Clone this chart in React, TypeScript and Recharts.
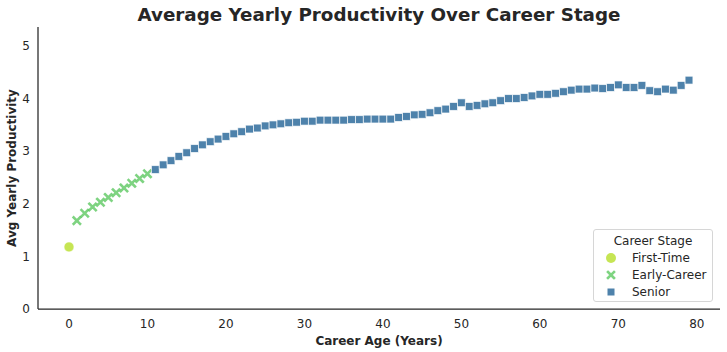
import { ScatterChart, Scatter, XAxis, YAxis } from 'recharts';

const firstTimeAges = [0];
const firstTimeVals = [1.18];

const earlyAges = [1, 2, 3, 4, 5, 6, 7, 8, 9, 10];
const earlyVals = [1.68, 1.82, 1.94, 2.03, 2.12, 2.21, 2.3, 2.39, 2.48, 2.57];

const seniorAges = [
    11, 12, 13, 14, 15, 16, 17, 18, 19, 20, 21, 22, 23, 24, 25, 26, 27, 28, 29, 30,
    31, 32, 33, 34, 35, 36, 37, 38, 39, 40, 41, 42, 43, 44, 45, 46, 47, 48, 49, 50,
    51, 52, 53, 54, 55, 56, 57, 58, 59, 60, 61, 62, 63, 64, 65, 66, 67, 68, 69, 70,
    71, 72, 73, 74, 75, 76, 77, 78, 79,
];
const seniorVals = [
    2.65, 2.74, 2.82, 2.9, 2.97, 3.05, 3.12, 3.18, 3.23, 3.28, 3.33, 3.37, 3.42, 3.44, 3.48, 3.5, 3.52, 3.54, 3.55, 3.57,
    3.57, 3.59, 3.59, 3.59, 3.59, 3.6, 3.6, 3.61, 3.61, 3.61, 3.61, 3.64, 3.66, 3.69, 3.7, 3.73, 3.77, 3.8, 3.85, 3.92,
    3.85, 3.87, 3.9, 3.92, 3.96, 4.0, 4.0, 4.02, 4.05, 4.08, 4.08, 4.1, 4.13, 4.16, 4.18, 4.18, 4.2, 4.19, 4.21, 4.26,
    4.21, 4.21, 4.25, 4.15, 4.13, 4.18, 4.16, 4.25, 4.35,
];

const xTicks = [0, 10, 20, 30, 40, 50, 60, 70, 80];
const yTicks = [0, 1, 2, 3, 4, 5];

const COLORS = {
    first: '#b8de29',
    early: '#5ec962',
    senior: '#2f6c9c',
};

const toPoints = (ages: number[], vals: number[]) => ages.map((a, i) => ({ age: a, value: vals[i] }));

const CircleShape = (props: any) => {
    const { cx, cy } = props;
    return <circle cx={cx} cy={cy} r={5} fill={COLORS.first} fillOpacity={0.8} stroke="#fff" strokeWidth={0.6} />;
};

const CrossShape = (props: any) => {
    const { cx, cy } = props;
    const s = 3.2;
    return (
        <g opacity={0.8}>
            <path
                d={`M${cx - s},${cy - s}L${cx + s},${cy + s}M${cx - s},${cy + s}L${cx + s},${cy - s}`}
                stroke={COLORS.early}
                strokeWidth={2.6}
                strokeLinecap="square"
            />
        </g>
    );
};

const SquareShape = (props: any) => {
    const { cx, cy } = props;
    const s = 7.8;
    return (
        <rect
            x={cx - s / 2}
            y={cy - s / 2}
            width={s}
            height={s}
            fill={COLORS.senior}
            fillOpacity={0.85}
            stroke="#fff"
            strokeOpacity={0.8}
            strokeWidth={0.8}
        />
    );
};

// legend box, matplotlib style
const LegendBox = () => {
    const items = [
        { label: 'First-Time', icon: <circle cx={7} cy={7} r={5} fill={COLORS.first} fillOpacity={0.8} /> },
        {
            label: 'Early-Career',
            icon: (
                <path d="M4,4L10,10M4,10L10,4" stroke={COLORS.early} strokeOpacity={0.8} strokeWidth={2.6} strokeLinecap="square" />
            ),
        },
        { label: 'Senior', icon: <rect x={3.5} y={3.5} width={7} height={7} fill={COLORS.senior} fillOpacity={0.85} /> },
    ];
    return (
        <div
            style={{
                position: 'absolute',
                left: 593,
                top: 229,
                width: 120,
                height: 73,
                border: '1px solid #d6d6d6',
                borderRadius: 3,
                background: 'rgba(255,255,255,0.8)',
                fontFamily: 'DejaVu Sans',
                fontSize: 12,
                color: '#262626',
                boxSizing: 'border-box',
                paddingTop: 3,
                whiteSpace: 'nowrap',
            }}
        >
            <div style={{ textAlign: 'center', lineHeight: '16px' }}>Career Stage</div>
            {items.map((it) => (
                <div key={it.label} style={{ display: 'flex', alignItems: 'center', height: 17, paddingLeft: 10 }}>
                    <svg width={14} height={14} style={{ marginRight: 14 }}>
                        {it.icon}
                    </svg>
                    <span>{it.label}</span>
                </div>
            ))}
        </div>
    );
};

export default function App() {
    const tickStyle = { fill: '#262626', fontSize: 12, fontFamily: 'DejaVu Sans' };
    return (
        <div style={{ position: 'absolute', left: 0, top: 0, width: 727, height: 352, background: '#fff' }}>
            <div
                style={{
                    position: 'absolute',
                    top: 4,
                    left: 38,
                    width: 682,
                    textAlign: 'center',
                    fontFamily: 'DejaVu Sans',
                    fontWeight: 'bold',
                    fontSize: 18.3,
                    color: '#262626',
                }}
            >
                Average Yearly Productivity Over Career Stage
            </div>
            <ScatterChart width={727} height={352} margin={{ top: 27, right: 7, left: 0, bottom: 0 }}>
                <XAxis
                    type="number"
                    dataKey="age"
                    domain={[-3.95, 82.95]}
                    ticks={xTicks}
                    tickLine={false}
                    tickMargin={4}
                    stroke="#262626"
                    strokeWidth={1.25}
                    tick={tickStyle}
                    height={43}
                    allowDataOverflow
                    label={{
                        value: 'Career Age (Years)',
                        position: 'insideBottom',
                        offset: 7,
                        style: { fontFamily: 'DejaVu Sans', fontWeight: 'bold', fontSize: 12, fill: '#262626' },
                    }}
                />
                <YAxis
                    type="number"
                    dataKey="value"
                    domain={[0, 5.36]}
                    ticks={yTicks}
                    tickLine={false}
                    tickMargin={2}
                    stroke="#262626"
                    strokeWidth={1.25}
                    tick={tickStyle}
                    width={38}
                    allowDataOverflow
                    label={{
                        value: 'Avg Yearly Productivity',
                        angle: -90,
                        position: 'insideLeft',
                        offset: 12,
                        style: { fontFamily: 'DejaVu Sans', fontWeight: 'bold', fontSize: 12, fill: '#262626', textAnchor: 'middle' },
                    }}
                />
                <Scatter name="First-Time" data={toPoints(firstTimeAges, firstTimeVals)} shape={<CircleShape />} isAnimationActive={false} />
                <Scatter name="Early-Career" data={toPoints(earlyAges, earlyVals)} shape={<CrossShape />} isAnimationActive={false} />
                <Scatter name="Senior" data={toPoints(seniorAges, seniorVals)} shape={<SquareShape />} isAnimationActive={false} />
            </ScatterChart>
            <LegendBox />
        </div>
    );
}
